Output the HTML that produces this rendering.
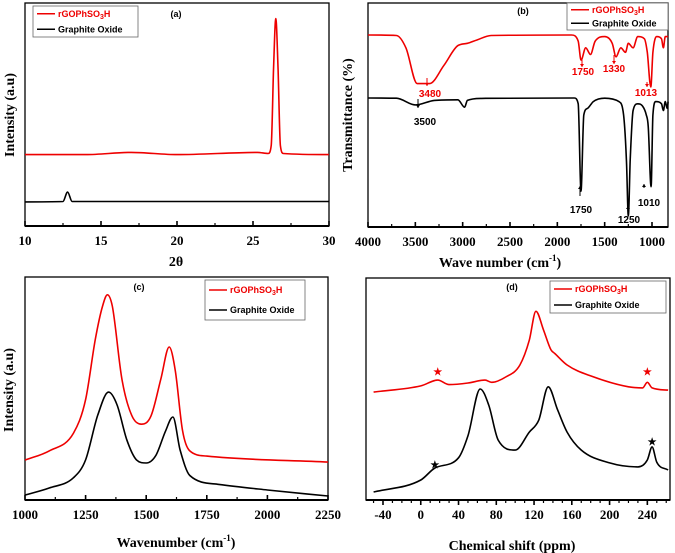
<!DOCTYPE html>
<html><head><meta charset="utf-8">
<style>
html,body{margin:0;padding:0;background:#fff;}
svg{display:block;}
.tk{font-family:"Liberation Serif",serif;font-weight:bold;font-size:13px;}
.tt{font-family:"Liberation Serif",serif;font-weight:bold;font-size:14px;}
.lg{font-family:"Liberation Sans",sans-serif;font-weight:bold;font-size:9px;}
.an{font-family:"Liberation Sans",sans-serif;font-weight:bold;font-size:10px;}
</style></head>
<body>
<svg id="fig" width="675" height="553" viewBox="0 0 675 553" xmlns="http://www.w3.org/2000/svg"></svg>
<script>
// ---------- Panel (a) XRD ----------
const aRedX=[10,14,17,20,25.3,26.0,26.2,26.35,26.5,26.65,26.8,27,30];
const aRedY=[32,32,33,32,33,32.5,36,70,93,70,36,32.5,32];
const aBlkX=[10,12.5,12.8,13.1,30];
const aBlkY=[10.8,11,15.2,11,11];
const aTicks=[10,15,20,25,30];
// ---------- Panel (b) FTIR ----------
const bRedX=[4000,3700,3600,3480,3350,3200,3050,2950,2850,2700,1850,1780,1750,1700,1650,1600,1500,1420,1380,1330,1280,1250,1200,1150,1080,1050,1013,990,950,900,880,860,830];
const bRedY=[85.7,85.5,80,64,64,72,81,82,83.5,85.5,85.7,83,74.5,80,77,83,85,82,76,80,78,82,80,85,84,78,62.5,78,85,84,80,85,85];
const bBlkX=[4000,3700,3500,3300,3050,2980,2950,2800,1820,1780,1750,1720,1680,1620,1500,1350,1300,1270,1250,1230,1200,1150,1100,1060,1040,1010,990,960,900,880,860,840,830];
const bBlkY=[57.6,57.5,54.5,56.5,56.8,53.5,56.5,57.4,57.6,55,16,50,53,56,57.5,56,50,30,4.9,30,52,55,54,50,45,18,50,56,55,52,56,53,56];
const bTicks=[4000,3500,3000,2500,2000,1500,1000];
// ---------- Panel (c) Raman ----------
const cRedX=[1000,1100,1200,1250,1290,1320,1340,1360,1400,1440,1480,1520,1560,1595,1620,1650,1680,1750,2250];
const cRedY=[17.9,22,30,45,72,87,92,87,54,38,34,37.7,54,68.6,58,31,22,19.7,17];
const cBlkX=[1000,1100,1200,1250,1300,1345,1380,1420,1460,1500,1540,1580,1610,1640,1680,1800,2000,2250];
const cBlkY=[2.2,5.4,10,18,38,48.4,42.6,27,18,16.6,20,31,37.2,22.4,11,7,4.5,1.8];
const cTicks=[1000,1250,1500,1750,2000,2250];
// ---------- Panel (d) NMR ----------
const dRedX=[-50,0,18,30,50,68,75,90,105,115,122,130,138,142,155,180,220,235,240,245,262];
const dRedY=[48.6,51.4,54,52,52.7,54,53,55.4,60.8,72,85,76.6,67.6,66,60.8,55.9,51,50.5,53,50.5,49.5];
const dBlkX=[-50,0,15,40,50,63,72,82,100,115,125,135,145,155,170,200,230,240,245,250,262];
const dBlkY=[3.6,9,14.4,19,29,50,42.8,27,22.5,30.6,36,51,40.5,30.6,22.5,16.7,14.9,18,23.9,17,13.5];
const dTicks=[-40,0,40,80,120,160,200,240];

const NS='http://www.w3.org/2000/svg';
const svg=document.getElementById('fig');
function mk(tag,attrs,parent){const e=document.createElementNS(NS,tag);for(const k in attrs)e.setAttribute(k,attrs[k]);(parent||svg).appendChild(e);return e;}
function txt(s,x,y,cls,parent,extra){const t=mk('text',Object.assign({x:x,y:y,class:cls,'text-anchor':'middle'},extra||{}),parent);t.textContent=s;return t;}
function scale(d0,d1,r0,r1){return v=>r0+(v-d0)/(d1-d0)*(r1-r0);}
// monotone cubic (Fritsch-Carlson) in pixel space, points sorted by x
function smoothPath(pts){
  pts=pts.slice().sort((a,b)=>a[0]-b[0]);
  const n=pts.length, dx=[], m=[], t=[];
  for(let i=0;i<n-1;i++){dx[i]=pts[i+1][0]-pts[i][0];m[i]=(pts[i+1][1]-pts[i][1])/dx[i];}
  t[0]=m[0];t[n-1]=m[n-2];
  for(let i=1;i<n-1;i++){t[i]=(m[i-1]*m[i]<=0)?0:(m[i-1]+m[i])/2;}
  for(let i=0;i<n-1;i++){
    if(m[i]===0){t[i]=0;t[i+1]=0;continue;}
    const a=t[i]/m[i],b=t[i+1]/m[i],s=a*a+b*b;
    if(s>9){const k=3/Math.sqrt(s);t[i]=k*a*m[i];t[i+1]=k*b*m[i];}
  }
  let d='M'+pts[0][0].toFixed(1)+','+pts[0][1].toFixed(1);
  for(let i=0;i<n-1;i++){
    const h=dx[i]/3;
    d+='C'+(pts[i][0]+h).toFixed(1)+','+(pts[i][1]+t[i]*h).toFixed(1)+' '+(pts[i+1][0]-h).toFixed(1)+','+(pts[i+1][1]-t[i+1]*h).toFixed(1)+' '+pts[i+1][0].toFixed(1)+','+pts[i+1][1].toFixed(1);
  }
  return d;
}
function series(g,xs,ys,sx,sy,color,name){
  const pts=xs.map((v,i)=>[sx(v),sy(ys[i])]);
  const p=mk('path',{d:smoothPath(pts),fill:'none',stroke:color,'stroke-width':1.6,'stroke-linejoin':'round'},g);
  
  
}
function panel(name,L,T,R,B,xd0,xd1,ticks,minorStep,tickOut){
  const g=mk('g',{},svg);
  
  
  const sx=scale(xd0,xd1,L,R), sy=scale(0,100,B,T);
  const box=mk('rect',{x:L,y:T,width:R-L,height:B-T,fill:'none',stroke:'#000','stroke-width':1.3},g);
  
  
  mk('line',{x1:L,y1:B,x2:R,y2:B,stroke:'#000','stroke-width':2},g);
  const dir=tickOut?1:-1;
  const lo=Math.min(xd0,xd1),hi=Math.max(xd0,xd1);
  for(let v=Math.ceil(lo/minorStep)*minorStep;v<=hi+1e-9;v+=minorStep){
    const major=ticks.some(t=>Math.abs(t-v)<1e-6);
    mk('line',{x1:sx(v),y1:B,x2:sx(v),y2:B+dir*(major?5:3),stroke:'#000','stroke-width':major?1.6:1.2},g);
  }
  ticks.forEach(t=>{
    const lab=txt(String(t),sx(t),B+19,'tk',g);
    
    
  });
  return {g,sx,sy};
}
function legend(g,x,y,w,h){
  const lg=mk('g',{},g);
  
  
  mk('rect',{x:x,y:y,width:w,height:h,fill:'#fff',stroke:'#666','stroke-width':0.8},lg);
  const r=h/4;
  mk('line',{x1:x+4,y1:y+r,x2:x+22,y2:y+r,stroke:'#e00','stroke-width':1.6},lg);
  const t1=mk('text',{x:x+25,y:y+r+3,class:'lg',fill:'#e00'},lg);
  t1.innerHTML='rGOPhSO<tspan dy="2" font-size="7">3</tspan><tspan dy="-2">H</tspan>';
  
  
  mk('line',{x1:x+4,y1:y+3*r,x2:x+22,y2:y+3*r,stroke:'#000','stroke-width':1.6},lg);
  const t2=txt('Graphite Oxide',x+25,y+3*r+3,'lg',lg,{'text-anchor':'start'});
  
  
}
function ylabel(g,s,x,y){const t=txt(s,x,y,'tt',g,{transform:'rotate(-90 '+x+' '+y+')'});return t;}

// Panel a
let P=panel('panel-a-xrd',25,3,329,226,10,30,aTicks,2.5,false);
series(P.g,aRedX,aRedY,P.sx,P.sy,'#e00','series-rgophso3h');
series(P.g,aBlkX,aBlkY,P.sx,P.sy,'#000','series-graphite-oxide');
legend(P.g,33,6,105,31);
txt('(a)',176,17,'lg',P.g,{'font-size':'10'});
ylabel(P.g,'Intensity (a.u)',14,115);
let xt=txt('2θ',176,266,'tt',P.g);

// Panel b
P=panel('panel-b-ftir',368,3,668,227,4000,831,bTicks,250,false);
series(P.g,bRedX,bRedY,P.sx,P.sy,'#e00','series-rgophso3h');
series(P.g,bBlkX,bBlkY,P.sx,P.sy,'#000','series-graphite-oxide');
legend(P.g,567,3,101,27);
txt('(b)',523,14,'lg',P.g,{'font-size':'10'});
ylabel(P.g,'Transmittance (%)',352,115);
xt=txt('',500,267,'tt',P.g);xt.innerHTML='Wave number (cm<tspan dy="-6" font-size="9">-1</tspan><tspan dy="6">)</tspan>';

[['3480',430,97,'#e00'],['1750',583,75,'#e00'],['1330',614,72,'#e00'],['1013',646,96,'#e00'],['3500',425,125,'#000'],['1750',581,213,'#000'],['1250',629,223,'#000'],['1010',649,206,'#000']].forEach(a=>{
  const t=txt(a[0],a[1],a[2],'an',P.g,{fill:a[3]});
});
[[427,78,86,'#e00'],[582,58,67,'#e00'],[614,55,64,'#e00'],[647,82,87,'#e00'],[418,99,108,'#000'],[580,196,186,'#000'],[628,213,206,'#000'],[644,188,184,'#000']].forEach(a=>{
  mk('line',{x1:a[0],y1:a[1],x2:a[0],y2:a[2],stroke:a[3],'stroke-width':1},P.g);
  const s=a[2]>a[1]?-1:1;
  mk('path',{d:`M${a[0]-2},${a[2]+s*3}L${a[0]+2},${a[2]+s*3}L${a[0]},${a[2]}Z`,fill:a[3]},P.g);
});

// Panel c
P=panel('panel-c-raman',25,277,328,500,1000,2250,cTicks,125,false);
series(P.g,cRedX,cRedY,P.sx,P.sy,'#e00','series-rgophso3h');
series(P.g,cBlkX,cBlkY,P.sx,P.sy,'#000','series-graphite-oxide');
legend(P.g,205,280,100,40);
txt('(c)',139,290,'lg',P.g,{'font-size':'10'});
ylabel(P.g,'Intensity (a.u)',13,390);
xt=txt('',176,547,'tt',P.g);xt.innerHTML='Wavenumber (cm<tspan dy="-6" font-size="9">-1</tspan><tspan dy="6">)</tspan>';


// Panel d
P=panel('panel-d-nmr',366,278,670,500,-58,264,dTicks,10,true);
series(P.g,dRedX,dRedY,P.sx,P.sy,'#e00','series-rgophso3h');
series(P.g,dBlkX,dBlkY,P.sx,P.sy,'#000','series-graphite-oxide');
legend(P.g,550,281,116,32);
txt('(d)',512,290,'lg',P.g,{'font-size':'10'});
xt=txt('Chemical shift  (ppm)',512,550,'tt',P.g,{'font-size':'12'});

[[18,375,'#e00'],[240,375,'#e00'],[15,468,'#000'],[245,445,'#000']].forEach(a=>{
  const t=txt('★',P.sx(a[0]),a[1],'an',P.g,{fill:a[2],'font-size':'9'});
});
</script>
</body></html>
